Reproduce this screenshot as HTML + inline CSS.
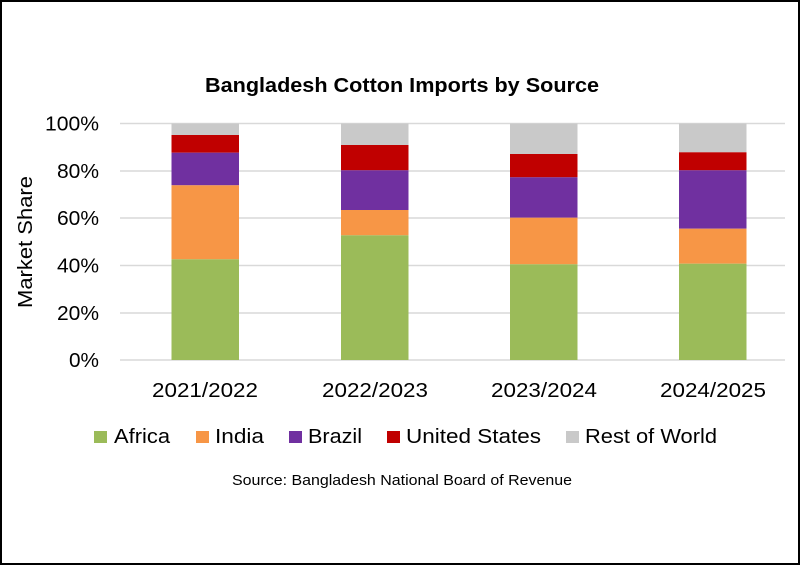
<!DOCTYPE html>
<html><head><meta charset="utf-8"><style>
html,body{margin:0;padding:0;background:#fff}
svg{display:block}
text{font-family:"Liberation Sans",sans-serif;fill:#000}
</style></head><body>
<svg width="800" height="565" viewBox="0 0 800 565" xmlns="http://www.w3.org/2000/svg">
<rect x="1" y="1" width="798" height="563" fill="#fff" stroke="#000" stroke-width="2"/>
<text x="205" y="92" font-size="20" font-weight="bold" textLength="394" lengthAdjust="spacingAndGlyphs">Bangladesh Cotton Imports by Source</text>
<g stroke="#d9d9d9" stroke-width="1.5">
<line x1="120" x2="785" y1="123.5" y2="123.5"/>
<line x1="120" x2="785" y1="171" y2="171"/>
<line x1="120" x2="785" y1="218" y2="218"/>
<line x1="120" x2="785" y1="265.5" y2="265.5"/>
<line x1="120" x2="785" y1="313" y2="313"/>
<line x1="120" x2="785" y1="360" y2="360"/>
</g>
<g font-size="20">
<text x="45" y="130.5" textLength="54" lengthAdjust="spacingAndGlyphs">100%</text>
<text x="57" y="178" textLength="42" lengthAdjust="spacingAndGlyphs">80%</text>
<text x="57" y="225" textLength="42" lengthAdjust="spacingAndGlyphs">60%</text>
<text x="57" y="272.5" textLength="42" lengthAdjust="spacingAndGlyphs">40%</text>
<text x="57" y="320" textLength="42" lengthAdjust="spacingAndGlyphs">20%</text>
<text x="69" y="367" textLength="30" lengthAdjust="spacingAndGlyphs">0%</text>
</g>
<text transform="translate(32,308) rotate(-90)" font-size="20" textLength="132" lengthAdjust="spacingAndGlyphs">Market Share</text>
<g>
<rect x="171.5" y="123.5" width="67.5" height="11.5" fill="#c9c9c9"/>
<rect x="171.5" y="135" width="67.5" height="17.7" fill="#c00000"/>
<rect x="171.5" y="152.7" width="67.5" height="32.6" fill="#7030a0"/>
<rect x="171.5" y="185.3" width="67.5" height="74" fill="#f79646"/>
<rect x="171.5" y="259.3" width="67.5" height="100.7" fill="#9bbb59"/>
</g>
<g>
<rect x="341" y="123.5" width="67.5" height="21.5" fill="#c9c9c9"/>
<rect x="341" y="145" width="67.5" height="25.3" fill="#c00000"/>
<rect x="341" y="170.3" width="67.5" height="39.7" fill="#7030a0"/>
<rect x="341" y="210" width="67.5" height="25.3" fill="#f79646"/>
<rect x="341" y="235.3" width="67.5" height="124.7" fill="#9bbb59"/>
</g>
<g>
<rect x="510" y="123.5" width="67.5" height="30.5" fill="#c9c9c9"/>
<rect x="510" y="154" width="67.5" height="23.3" fill="#c00000"/>
<rect x="510" y="177.3" width="67.5" height="40.4" fill="#7030a0"/>
<rect x="510" y="217.7" width="67.5" height="46.6" fill="#f79646"/>
<rect x="510" y="264.3" width="67.5" height="95.7" fill="#9bbb59"/>
</g>
<g>
<rect x="679" y="123.5" width="67.5" height="28.8" fill="#c9c9c9"/>
<rect x="679" y="152.3" width="67.5" height="18" fill="#c00000"/>
<rect x="679" y="170.3" width="67.5" height="58.4" fill="#7030a0"/>
<rect x="679" y="228.7" width="67.5" height="35" fill="#f79646"/>
<rect x="679" y="263.7" width="67.5" height="96.3" fill="#9bbb59"/>
</g>
<g font-size="20">
<text x="152" y="397" textLength="106" lengthAdjust="spacingAndGlyphs">2021/2022</text>
<text x="322" y="397" textLength="106" lengthAdjust="spacingAndGlyphs">2022/2023</text>
<text x="491" y="397" textLength="106" lengthAdjust="spacingAndGlyphs">2023/2024</text>
<text x="660" y="397" textLength="106" lengthAdjust="spacingAndGlyphs">2024/2025</text>
</g>
<g font-size="20">
<rect x="94" y="431" width="13" height="12" fill="#9bbb59"/><text x="114" y="443" textLength="56" lengthAdjust="spacingAndGlyphs">Africa</text>
<rect x="196" y="431" width="13" height="12" fill="#f79646"/><text x="215" y="443" textLength="49" lengthAdjust="spacingAndGlyphs">India</text>
<rect x="289" y="431" width="13" height="12" fill="#7030a0"/><text x="308" y="443" textLength="54" lengthAdjust="spacingAndGlyphs">Brazil</text>
<rect x="387" y="431" width="13" height="12" fill="#c00000"/><text x="406" y="443" textLength="135" lengthAdjust="spacingAndGlyphs">United States</text>
<rect x="566" y="431" width="13" height="12" fill="#c9c9c9"/><text x="585" y="443" textLength="132" lengthAdjust="spacingAndGlyphs">Rest of World</text>
</g>
<text x="232" y="485" font-size="15" textLength="340" lengthAdjust="spacingAndGlyphs">Source: Bangladesh National Board of Revenue</text>
</svg>
</body></html>
